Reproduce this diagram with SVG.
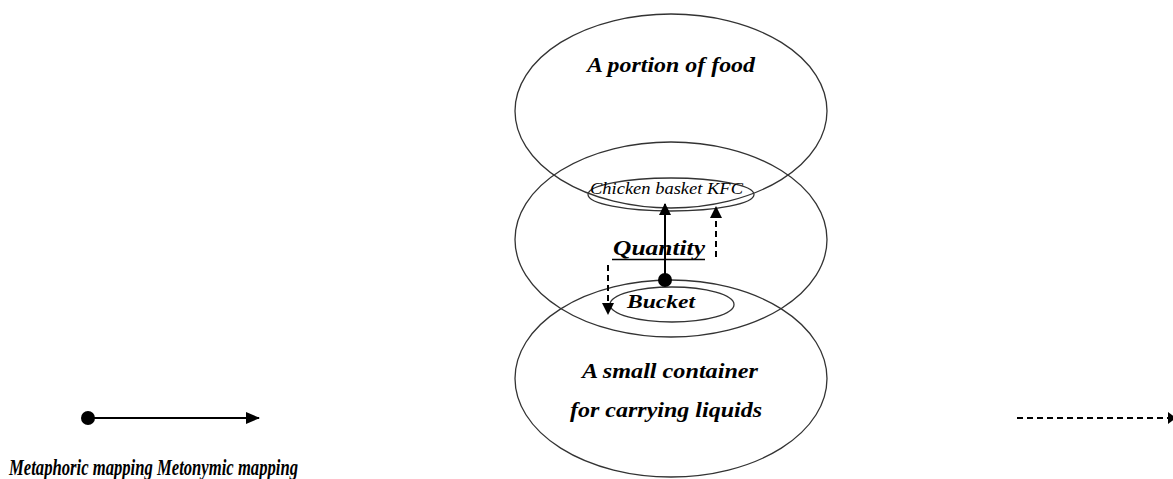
<svg xmlns="http://www.w3.org/2000/svg" width="1173" height="479" viewBox="0 0 1173 479">
<style>
.e{fill:none;stroke:#333;stroke-width:1.3}
.c{stroke:#000;stroke-width:2;fill:none}
.d{stroke:#000;stroke-width:2;fill:none;stroke-dasharray:6 4}
</style>
<defs>
<marker id="ah" markerWidth="12" markerHeight="12" refX="11" refY="6" orient="auto" markerUnits="userSpaceOnUse" viewBox="0 0 12 12">
<path d="M0,0 L12,6 L0,12 z" fill="#000"/>
</marker>
<marker id="ahl" markerWidth="14" markerHeight="12" refX="13" refY="6" orient="auto" markerUnits="userSpaceOnUse" viewBox="0 0 14 12">
<path d="M0,0 L14,6 L0,12 z" fill="#000"/>
</marker>
</defs>
<rect width="1173" height="479" fill="#fff"/>
<g font-family="Liberation Serif, Times New Roman, serif" font-style="italic" font-weight="bold" fill="#000">
<g id="top-domain">
<ellipse class="e" cx="671" cy="111" rx="156" ry="97"/>
<text x="587" y="72" font-size="22" textLength="168" lengthAdjust="spacingAndGlyphs">A portion of food</text>
</g>
<g id="middle-domain">
<ellipse class="e" cx="671" cy="239.5" rx="156" ry="97.5"/>
<text x="613" y="255" font-size="21" textLength="92" lengthAdjust="spacingAndGlyphs">Quantity</text>
<line x1="612" y1="259.5" x2="705" y2="259.5" stroke="#000" stroke-width="1.6"/>
</g>
<g id="bottom-domain">
<ellipse class="e" cx="671" cy="378.5" rx="156" ry="98.5"/>
<text x="582" y="378" font-size="21" textLength="176" lengthAdjust="spacingAndGlyphs">A small container</text>
<text x="570" y="417" font-size="21" textLength="192" lengthAdjust="spacingAndGlyphs">for carrying liquids</text>
</g>
<g id="chicken-basket">
<ellipse class="e" cx="671" cy="194.5" rx="83" ry="16.5"/>
<text x="590" y="194" font-size="17" font-weight="normal" textLength="153" lengthAdjust="spacingAndGlyphs">Chicken basket KFC</text>
</g>
<g id="bucket">
<ellipse class="e" cx="672" cy="304.5" rx="62" ry="17.5"/>
<text x="627" y="308" font-size="19" textLength="68" lengthAdjust="spacingAndGlyphs">Bucket</text>
</g>
<g id="connectors">
<circle cx="665" cy="280" r="7" fill="#000"/>
<line class="c" x1="665" y1="280" x2="665" y2="204" marker-end="url(#ah)"/>
<line class="d" x1="716" y1="257" x2="716" y2="207" marker-end="url(#ah)"/>
<line class="d" x1="608" y1="265" x2="608" y2="314" marker-end="url(#ah)"/>
<circle cx="88" cy="418" r="7" fill="#000"/>
<line class="c" x1="88" y1="418" x2="259" y2="418" marker-end="url(#ahl)"/>
<line class="d" x1="1017" y1="418" x2="1168" y2="418" stroke-dasharray="7 5.5"/>
<path d="M1168,412 L1176,418 L1168,424 z" fill="#000"/>
</g>
<g id="legend">
<text x="9" y="475" font-size="23" textLength="289" lengthAdjust="spacingAndGlyphs">Metaphoric mapping Metonymic mapping</text>
</g>
</g>
</svg>
